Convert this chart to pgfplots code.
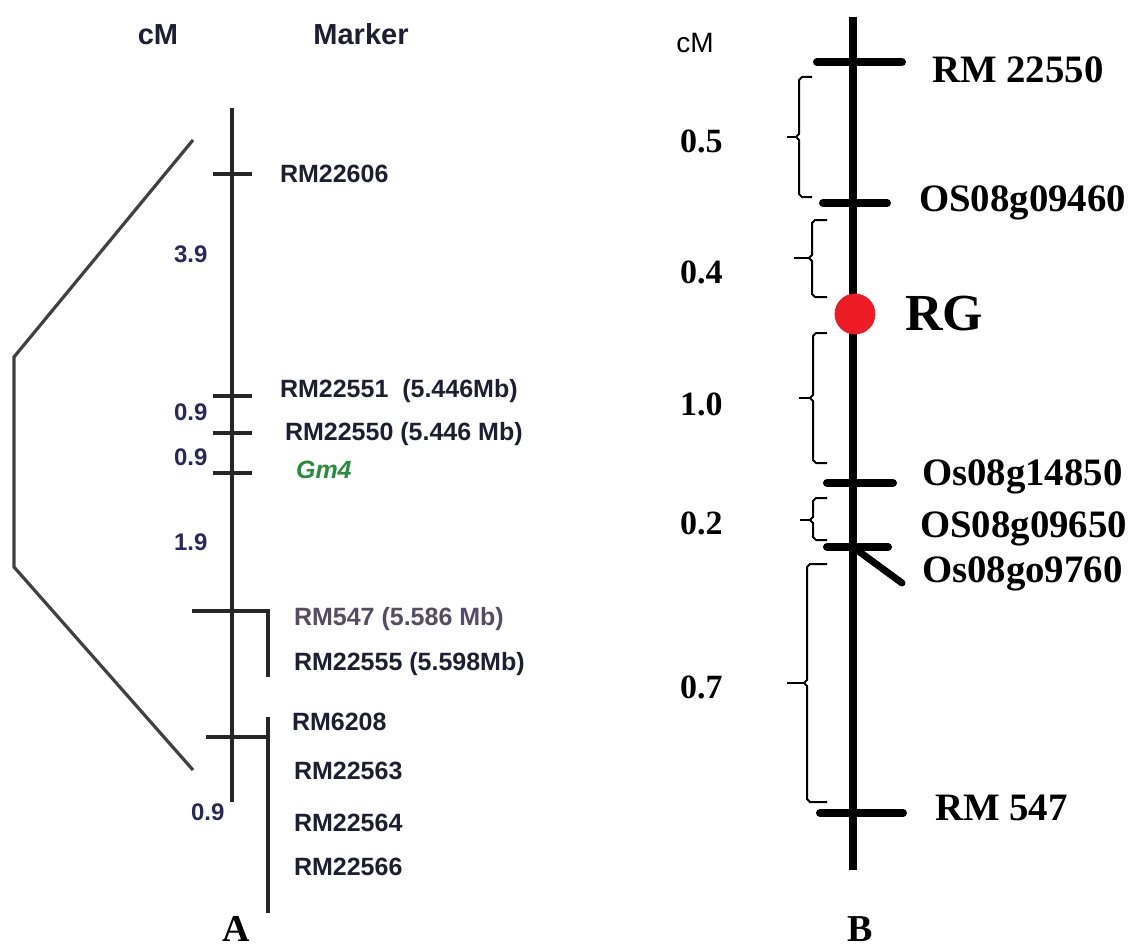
\documentclass[border=0pt]{standalone}
\usepackage{pgfplots}
\pgfplotsset{compat=1.18}
\usepackage{fontspec}
\setmainfont{Liberation Serif}
\newfontfamily\arial{Liberation Sans}
\definecolor{atext}{RGB}{30,30,50}
\definecolor{anum}{RGB}{40,40,90}
\definecolor{gmgreen}{RGB}{40,140,60}
\definecolor{rmgray}{RGB}{85,75,100}
\definecolor{rgred}{RGB}{237,28,36}
\begin{document}
\begin{tikzpicture}
\begin{axis}[
  width=567.5pt, height=473.5pt, scale only axis,
  xmin=0, xmax=1135, ymin=0, ymax=947, y dir=reverse,
  hide axis, clip=false, anchor=south west, at={(0pt,0pt)},
  every node/.style={inner sep=0pt, outer sep=0pt},
]
% ---------------- Panel A ----------------
\pgfplotsset{alin/.style={black!85, line width=1.6pt, no marks}}
\addplot[alin] coordinates {(232,108) (232,802)};
\addplot[alin] coordinates {(213,174) (252,174)};
\addplot[alin] coordinates {(213,396) (252,396)};
\addplot[alin] coordinates {(213,433) (252,433)};
\addplot[alin] coordinates {(213,473) (252,473)};
\addplot[alin] coordinates {(192,611) (268,611) (268,677)};
\addplot[alin] coordinates {(206,737) (268,737)};
\addplot[alin] coordinates {(268,717) (268,913)};
\addplot[black!75, line width=1.6pt, no marks] coordinates {(193,140) (14,357) (14,567) (193,770)};
% A texts
\node[anchor=base, font=\arial\bfseries\fontsize{14.5pt}{16pt}\selectfont, text=atext] at (axis cs:158,45) {cM};
\node[anchor=base, font=\arial\bfseries\fontsize{14.5pt}{16pt}\selectfont, text=atext] at (axis cs:361,45) {Marker};
\begin{scope}[every node/.append style={anchor=base west, font=\arial\bfseries\fontsize{12.5pt}{15pt}\selectfont, text=atext}]
\node at (axis cs:273,183) {RM22606};
\node at (axis cs:273,397) {RM22551\ \ (5.446Mb)};
\node at (axis cs:278,440) {RM22550 (5.446 Mb)};
\node[text=gmgreen, font=\arial\bfseries\itshape\fontsize{12.5pt}{15pt}\selectfont] at (axis cs:289,478) {Gm4};
\node[text=rmgray] at (axis cs:287,625) {RM547 (5.586 Mb)};
\node at (axis cs:287,670) {RM22555 (5.598Mb)};
\node at (axis cs:285,730) {RM6208};
\node at (axis cs:287,779) {RM22563};
\node at (axis cs:287,831) {RM22564};
\node at (axis cs:287,875) {RM22566};
\end{scope}
\begin{scope}[every node/.append style={anchor=base west, font=\arial\bfseries\fontsize{12pt}{14pt}\selectfont, text=anum}]
\node at (axis cs:167,262) {3.9};
\node at (axis cs:167,420) {0.9};
\node at (axis cs:167,465) {0.9};
\node at (axis cs:167,550) {1.9};
\node at (axis cs:184,820) {0.9};
\end{scope}
\node[anchor=base, font=\bfseries\fontsize{19pt}{21pt}\selectfont] at (axis cs:236,941) {A};
% ---------------- Panel B ----------------
\pgfplotsset{blin/.style={black, line width=4pt, line cap=round, no marks}}
\addplot[black, line width=4pt, no marks] coordinates {(853,17) (853,870)};
\addplot[blin] coordinates {(817,62) (902,62)};
\addplot[blin] coordinates {(823,203) (887,203)};
\addplot[blin] coordinates {(827,483) (893,483)};
\addplot[blin] coordinates {(827,547) (888,547)};
\addplot[blin] coordinates {(820,813) (903,813)};
\addplot[blin, line width=3.5pt] coordinates {(857,550) (902,583)};
% brackets
\pgfplotsset{brk/.style={black, line width=1pt, no marks, line join=round}}
\addplot[brk] coordinates {(812,77) (802,77) (799,80) (799,134) (796,137) (799,140) (799,194) (802,197) (812,197)};
\addplot[brk] coordinates {(787,137) (796,137)};
\addplot[brk] coordinates {(827,220) (815,220) (812,223) (812,255) (809,258) (812,261) (812,294) (815,297) (827,297)};
\addplot[brk] coordinates {(794,258) (809,258)};
\addplot[brk] coordinates {(827,333) (816,333) (813,336) (813,395) (810,398) (813,401) (813,460) (816,463) (827,463)};
\addplot[brk] coordinates {(799,398) (810,398)};
\addplot[brk] coordinates {(827,498) (816,498) (813,501) (813,517) (810,520) (813,523) (813,537) (816,540) (827,540)};
\addplot[brk] coordinates {(800,520) (810,520)};
\addplot[brk] coordinates {(827,564) (810,564) (807,567) (807,680) (804,683) (807,686) (807,799) (810,802) (827,802)};
\addplot[brk] coordinates {(787,683) (804,683)};
% RG dot
\addplot[only marks, mark=*, mark size=10pt, color=rgred, mark options={draw=rgred, fill=rgred}] coordinates {(855,314)};
% B texts
\node[anchor=base, font=\arial\fontsize{14pt}{16pt}\selectfont] at (axis cs:695,53) {cM};
\begin{scope}[every node/.append style={anchor=base west, font=\bfseries\fontsize{19.4pt}{22pt}\selectfont}]
\node at (axis cs:925,83) {RM 22550};
\node at (axis cs:912,212) {OS08g09460};
\node at (axis cs:915,485) {Os08g14850};
\node at (axis cs:913,537) {OS08g09650};
\node at (axis cs:915,582) {Os08go9760};
\node at (axis cs:928,820) {RM 547};
\end{scope}
\node[anchor=base west, font=\bfseries\fontsize{26pt}{28pt}\selectfont] at (axis cs:898,330) {RG};
\begin{scope}[every node/.append style={anchor=base west, font=\bfseries\fontsize{17pt}{19pt}\selectfont}]
\node at (axis cs:673,153) {0.5};
\node at (axis cs:673,283) {0.4};
\node at (axis cs:673,415) {1.0};
\node at (axis cs:673,534) {0.2};
\node at (axis cs:673,698) {0.7};
\end{scope}
\node[anchor=base, font=\bfseries\fontsize{19pt}{21pt}\selectfont] at (axis cs:860,941) {B};
\end{axis}
\pgfresetboundingbox
\path[use as bounding box] (0pt,0pt) rectangle (567.5pt,473.5pt);
\end{tikzpicture}
\end{document}
